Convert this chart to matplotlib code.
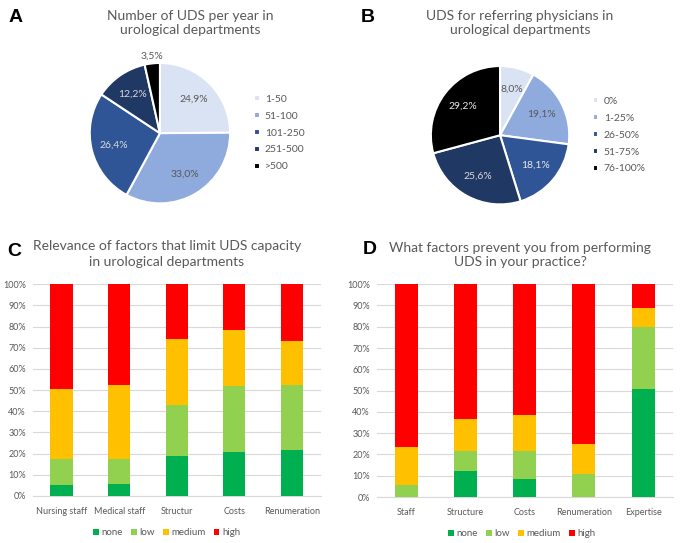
import numpy as np
import matplotlib
matplotlib.use("Agg")
import matplotlib.pyplot as plt
from matplotlib.ticker import PercentFormatter

plt.rcParams['font.family'] = ['Lato', 'DejaVu Sans']

# panel A
a_labels = ['1-50', '51-100', '101-250', '251-500', '>500']
a_values = [24.9, 33.0, 26.4, 12.2, 3.5]
# panel B
b_labels = ['0%', '1-25%', '26-50%', '51-75%', '76-100%']
b_values = [8.0, 19.1, 18.1, 25.6, 29.2]

pie_colors = ['#dae3f3', '#8faadc', '#2f5597', '#203864', '#000000']

# panel C
c_cats = ['Nursing staff', 'Medical staff', 'Structur', 'Costs', 'Renumeration']
c_none = [5.0, 5.5, 18.7, 20.6, 21.5]
c_low = [12.6, 11.8, 24.1, 31.1, 30.9]
c_medium = [32.7, 35.1, 31.1, 26.9, 21.0]
c_high = [49.7, 47.6, 26.1, 21.4, 26.6]

# panel D
d_cats = ['Staff', 'Structure', 'Costs', 'Renumeration', 'Expertise']
d_none = [0.0, 12.4, 8.5, 0.0, 50.8]
d_low = [5.5, 9.2, 13.3, 10.6, 29.0]
d_medium = [18.2, 15.1, 16.9, 14.2, 9.1]
d_high = [76.3, 63.3, 61.3, 75.2, 11.1]

levels = ['none', 'low', 'medium', 'high']
bar_colors = ['#00b050', '#92d050', '#ffc000', '#ff0000']

GRAY = '#595959'

fig = plt.figure(figsize=(6.85, 5.43), dpi=100)


def draw_pie(rect, values, labels, txt_colors, outside, legend_pos):
	ax = fig.add_axes(rect)
	wedges, texts = ax.pie(values, colors=pie_colors, startangle=90, counterclock=False,
		wedgeprops=dict(edgecolor='white', linewidth=1.5))
	ax.set_xlim(-1.01, 1.01)
	ax.set_ylim(-1.01, 1.01)
	ax.set_aspect('equal')
	for i, w in enumerate(wedges):
		ang = np.deg2rad((w.theta1 + w.theta2) / 2)
		r = 1.1 if i in outside else 0.68
		ax.text(r * np.cos(ang), r * np.sin(ang), '{:.1f}%'.format(values[i]).replace('.', ','),
			ha='center', va='center', fontsize=7.5, color=txt_colors[i])
	ax.legend(wedges, labels, loc='center left', bbox_to_anchor=legend_pos, frameon=False,
		fontsize=7.5, handlelength=0.5, handleheight=0.5, handletextpad=0.5, labelspacing=0.75,
		labelcolor=GRAY)
	return ax


draw_pie([0.130, 0.624, 0.207, 0.2615], a_values, a_labels,
	[GRAY, GRAY, '#d9d9d9', '#d9d9d9', GRAY], [4], (1.1, 0.5))
draw_pie([0.628, 0.622, 0.204, 0.258], b_values, b_labels,
	[GRAY, GRAY, '#e8e8e8', '#d9d9d9', '#e8e8e8'], [], (1.1, 0.5))


def draw_bars(rect, cats, series, leg_x):
	ax = fig.add_axes(rect)
	x = np.arange(len(cats))
	bottom = np.zeros(len(cats))
	for vals, name, col in zip(series, levels, bar_colors):
		ax.bar(x, vals, 0.39, bottom=bottom, color=col, label=name, zorder=3)
		bottom += np.array(vals)
	ax.set_xlim(-0.5, len(cats) - 0.5)
	ax.set_ylim(0, 100)
	ax.set_yticks(np.arange(0, 101, 10))
	ax.yaxis.set_major_formatter(PercentFormatter(decimals=0))
	ax.set_xticks(x)
	ax.set_xticklabels(cats)
	ax.grid(axis='y', color='#d9d9d9', linewidth=0.8, zorder=0)
	for s in ['top', 'right', 'left']:
		ax.spines[s].set_visible(False)
	ax.spines['bottom'].set_color('#d9d9d9')
	ax.tick_params(axis='both', length=0, labelsize=6.5, labelcolor=GRAY, pad=5)
	ax.tick_params(axis='x', labelsize=6.5, pad=8)
	ax.legend(loc='upper center', bbox_to_anchor=(leg_x, -0.11), ncol=4, frameon=False,
		fontsize=7, handlelength=0.6, handleheight=0.6, handletextpad=0.3, columnspacing=0.8,
		labelcolor=GRAY)
	return ax


draw_bars([0.048, 0.0866, 0.420, 0.390], c_cats, [c_none, c_low, c_medium, c_high], 0.465)
draw_bars([0.550, 0.0847, 0.432, 0.392], d_cats, [d_none, d_low, d_medium, d_high], 0.49)

# titles
tkw = dict(ha='center', va='center', fontsize=10, color=GRAY, linespacing=1.3)
fig.text(190 / 685, 1 - 23 / 543, 'Number of UDS per year in\nurological departments', **tkw)
fig.text(520 / 685, 1 - 23 / 543, 'UDS for referring physicians in\nurological departments', **tkw)
fig.text(167 / 685, 1 - 254 / 543, 'Relevance of factors that limit UDS capacity\nin urological departments', **tkw)
fig.text(520 / 685, 1 - 255 / 543, 'What factors prevent you from performing\nUDS in your practice?', **tkw)

# panel letters
lkw = dict(ha='center', va='center', fontsize=14, fontweight='bold', color='black',
	family=['Liberation Sans', 'DejaVu Sans'])
fig.text(16 / 685, 1 - 17 / 543, 'A', **lkw)
fig.text(368 / 685, 1 - 18 / 543, 'B', **lkw)
fig.text(14 / 685, 1 - 251 / 543, 'C', **lkw)
fig.text(370 / 685, 1 - 250 / 543, 'D', **lkw)

fig.savefig('out.png', dpi=100, facecolor='white')
